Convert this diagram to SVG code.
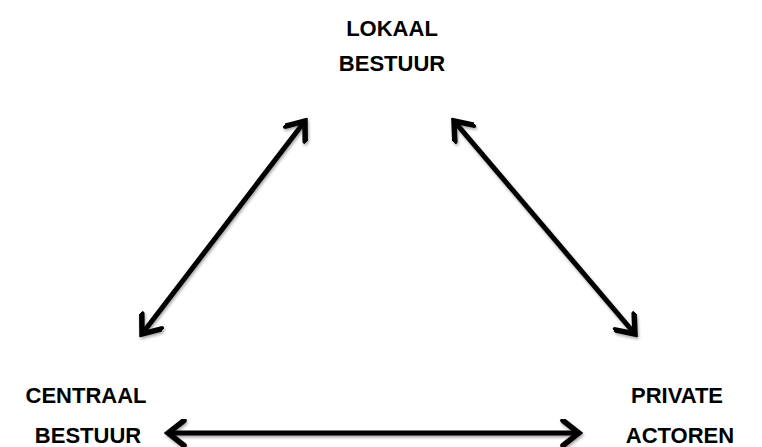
<svg xmlns="http://www.w3.org/2000/svg" width="762" height="447" viewBox="0 0 762 447">
<style>
.lbl{font-family:"Liberation Sans",Arial,sans-serif;font-weight:bold;font-size:22px;fill:#000;text-anchor:middle}
.conn{stroke:#000;stroke-width:5;fill:none;marker-start:url(#head);marker-end:url(#head)}
</style>
<defs>
<marker id="head" markerUnits="userSpaceOnUse" viewBox="-20 -14 24 28" refX="0" refY="0" markerWidth="24" markerHeight="28" orient="auto-start-reverse">
<path d="M-16,-12.5 L0,0 L-16,12.5" fill="none" stroke="#000" stroke-width="5.5" stroke-linecap="round" stroke-linejoin="miter"/>
</marker>
<filter id="sh" x="-10%" y="-10%" width="120%" height="120%">
<feGaussianBlur in="SourceAlpha" stdDeviation="1.5"/>
<feOffset dx="1" dy="2" result="b"/>
<feComponentTransfer><feFuncA type="linear" slope="0.35"/></feComponentTransfer>
<feMerge><feMergeNode/><feMergeNode in="SourceGraphic"/></feMerge>
</filter>
</defs>
<g id="connectors" filter="url(#sh)">
<line class="conn" x1="142" y1="334" x2="305" y2="121"/>
<line class="conn" x1="454" y1="121" x2="635" y2="334"/>
<line class="conn" x1="168" y1="433" x2="579" y2="433"/>
</g>
<g id="lokaal">
<text class="lbl" x="392" y="36">LOKAAL</text>
<text class="lbl" x="392" y="71">BESTUUR</text>
</g>
<g id="centraal">
<text class="lbl" x="86" y="403">CENTRAAL</text>
<text class="lbl" x="88" y="443">BESTUUR</text>
</g>
<g id="private">
<text class="lbl" x="677" y="403">PRIVATE</text>
<text class="lbl" x="680" y="443">ACTOREN</text>
</g>
</svg>
